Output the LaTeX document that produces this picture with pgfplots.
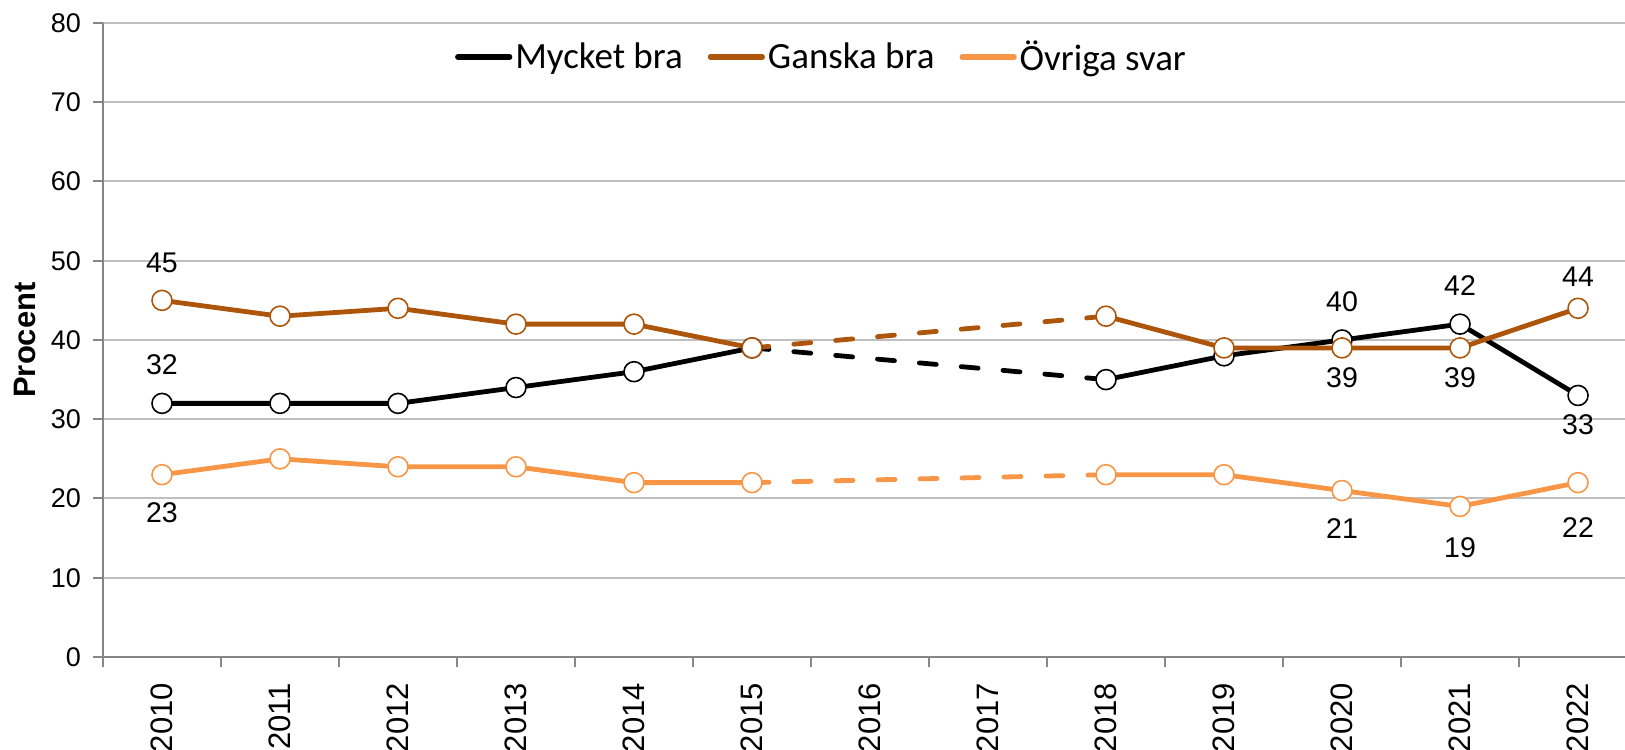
\documentclass[border=0pt]{standalone}
\usepackage{fontspec}
\setmainfont{Liberation Sans}
\newfontfamily\legendfont{Carlito}
\usepackage{pgfplots}
\usepackage{pgfplotstable}
\pgfplotsset{compat=1.18}
\definecolor{cA}{RGB}{0,0,0}
\definecolor{cB}{RGB}{173,86,11}
\definecolor{cC}{RGB}{247,150,70}
\definecolor{gridc}{RGB}{191,191,191}
\definecolor{axc}{RGB}{134,134,134}

% Mycket bra
\pgfplotstableread{
x y
0 32
1 32
2 32
3 34
4 36
5 39
}\mycketA
\pgfplotstableread{
x y
5 39
8 35
}\mycketD
\pgfplotstableread{
x y
8 35
9 38
10 40
11 42
12 33
}\mycketB
% Ganska bra
\pgfplotstableread{
x y
0 45
1 43
2 44
3 42
4 42
5 39
}\ganskaA
\pgfplotstableread{
x y
5 39
8 43
}\ganskaD
\pgfplotstableread{
x y
8 43
9 39
10 39
11 39
12 44
}\ganskaB
% Ovriga svar
\pgfplotstableread{
x y
0 23
1 25
2 24
3 24
4 22
5 22
}\ovrigaA
\pgfplotstableread{
x y
5 22
8 23
}\ovrigaD
\pgfplotstableread{
x y
8 23
9 23
10 21
11 19
12 22
}\ovrigaB
% data labels (x, value, vertical offset in pt)
\pgfplotstableread{
x y dy
0 32 19.5
10 40 19.2
11 42 19.2
12 33 -14.8
0 45 19.0
12 44 15.8
10 39 -14.8
11 39 -14.8
0 23 -19.2
10 21 -19.2
11 19 -20.5
12 22 -22.5
}\labels

\begin{document}
\begin{tikzpicture}
\begin{axis}[
  scale only axis,
  width=761pt, height=317pt,
  xmin=-0.5, xmax=12.398, ymin=0, ymax=80,
  axis x line*=bottom, axis y line*=left,
  axis line style={draw=axc, line width=1pt},
  ytick={0,10,...,80},
  yticklabel style={font=\fontsize{13.5}{15}\selectfont, xshift=-2.5pt},
  ymajorgrids, grid style={draw=gridc, line width=1pt},
  tick align=outside, major tick length=5pt,
  tick style={draw=axc, line width=1pt},
  xtick={-0.5,0.5,...,11.5}, xticklabels={},
  extra x ticks={0,1,2,3,4,5,6,7,8,9,10,11,12},
  extra x tick labels={2010,2011,2012,2013,2014,2015,2016,2017,2018,2019,2020,2021,2022},
  extra x tick style={tick style={draw=none}, grid=none},
  xticklabel style={yshift=-4.5pt, rotate=90, anchor=east, font=\fontsize{15.5}{17}\selectfont},
  /pgf/number format/assume math mode=true,
  ylabel={Procent},
  ylabel style={at={(axis description cs:-0.05125,0.5)}, anchor=center,
     font=\fontsize{15.5}{17}\selectfont\bfseries},
  clip=false,
  legend style={draw=none, fill=none, at={(0.4724,0.9464)}, anchor=center,
     font=\legendfont\fontsize{18.5}{20}\selectfont, inner sep=0pt,
     nodes={inner sep=1.5pt},
     /tikz/every even column/.append style={column sep=11pt}},
  legend columns=3,
  legend image code/.code={\draw[line width=2.6pt, line cap=round, solid] (0pt,0pt) -- (26pt,0pt);},
  every axis plot/.append style={line width=2.4pt, line join=round},
  mark size=5pt,
]
% Mycket bra
\addplot[cA, dash pattern=on 8.5pt off 12.5pt, line cap=round, mark=none, forget plot] table {\mycketD};
\addplot[cA, mark=*, mark options={fill=white, draw=cA, line width=0.8pt, solid}] table {\mycketA};
\addlegendentry{Mycket bra}
\addplot[cA, mark=*, mark options={fill=white, draw=cA, line width=0.8pt, solid}, forget plot] table {\mycketB};
% Ganska bra
\addplot[cB, dash pattern=on 8.5pt off 12.5pt, line cap=round, mark=none, forget plot] table {\ganskaD};
\addplot[cB, mark=*, mark options={fill=white, draw=cB, line width=0.8pt, solid}] table {\ganskaA};
\addlegendentry{Ganska bra}
\addplot[cB, mark=*, mark options={fill=white, draw=cB, line width=0.8pt, solid}, forget plot] table {\ganskaB};
% Ovriga svar
\addplot[cC, dash pattern=on 8.5pt off 12.5pt, line cap=round, mark=none, forget plot] table {\ovrigaD};
\addplot[cC, mark=*, mark options={fill=white, draw=cC, line width=0.8pt, solid}] table {\ovrigaA};
\addlegendentry{Övriga svar}
\addplot[cC, mark=*, mark options={fill=white, draw=cC, line width=0.8pt, solid}, forget plot] table {\ovrigaB};
% data labels
\addplot[draw=none, mark=none, forget plot, nodes near coords, point meta=explicit,
   visualization depends on={\thisrow{dy}\as\dy},
   every node near coord/.style={anchor=center, yshift=\dy pt, inner sep=0pt,
      text=black, font=\fontsize{14.25}{16}\selectfont}]
   table[x=x, y=y, meta=y] {\labels};
\end{axis}
\pgfresetboundingbox
\path[use as bounding box] ([shift={(-51.5pt,-46.5pt)}]current axis.south west) rectangle ([shift={(0pt,11.5pt)}]current axis.north east);
\end{tikzpicture}
\end{document}
